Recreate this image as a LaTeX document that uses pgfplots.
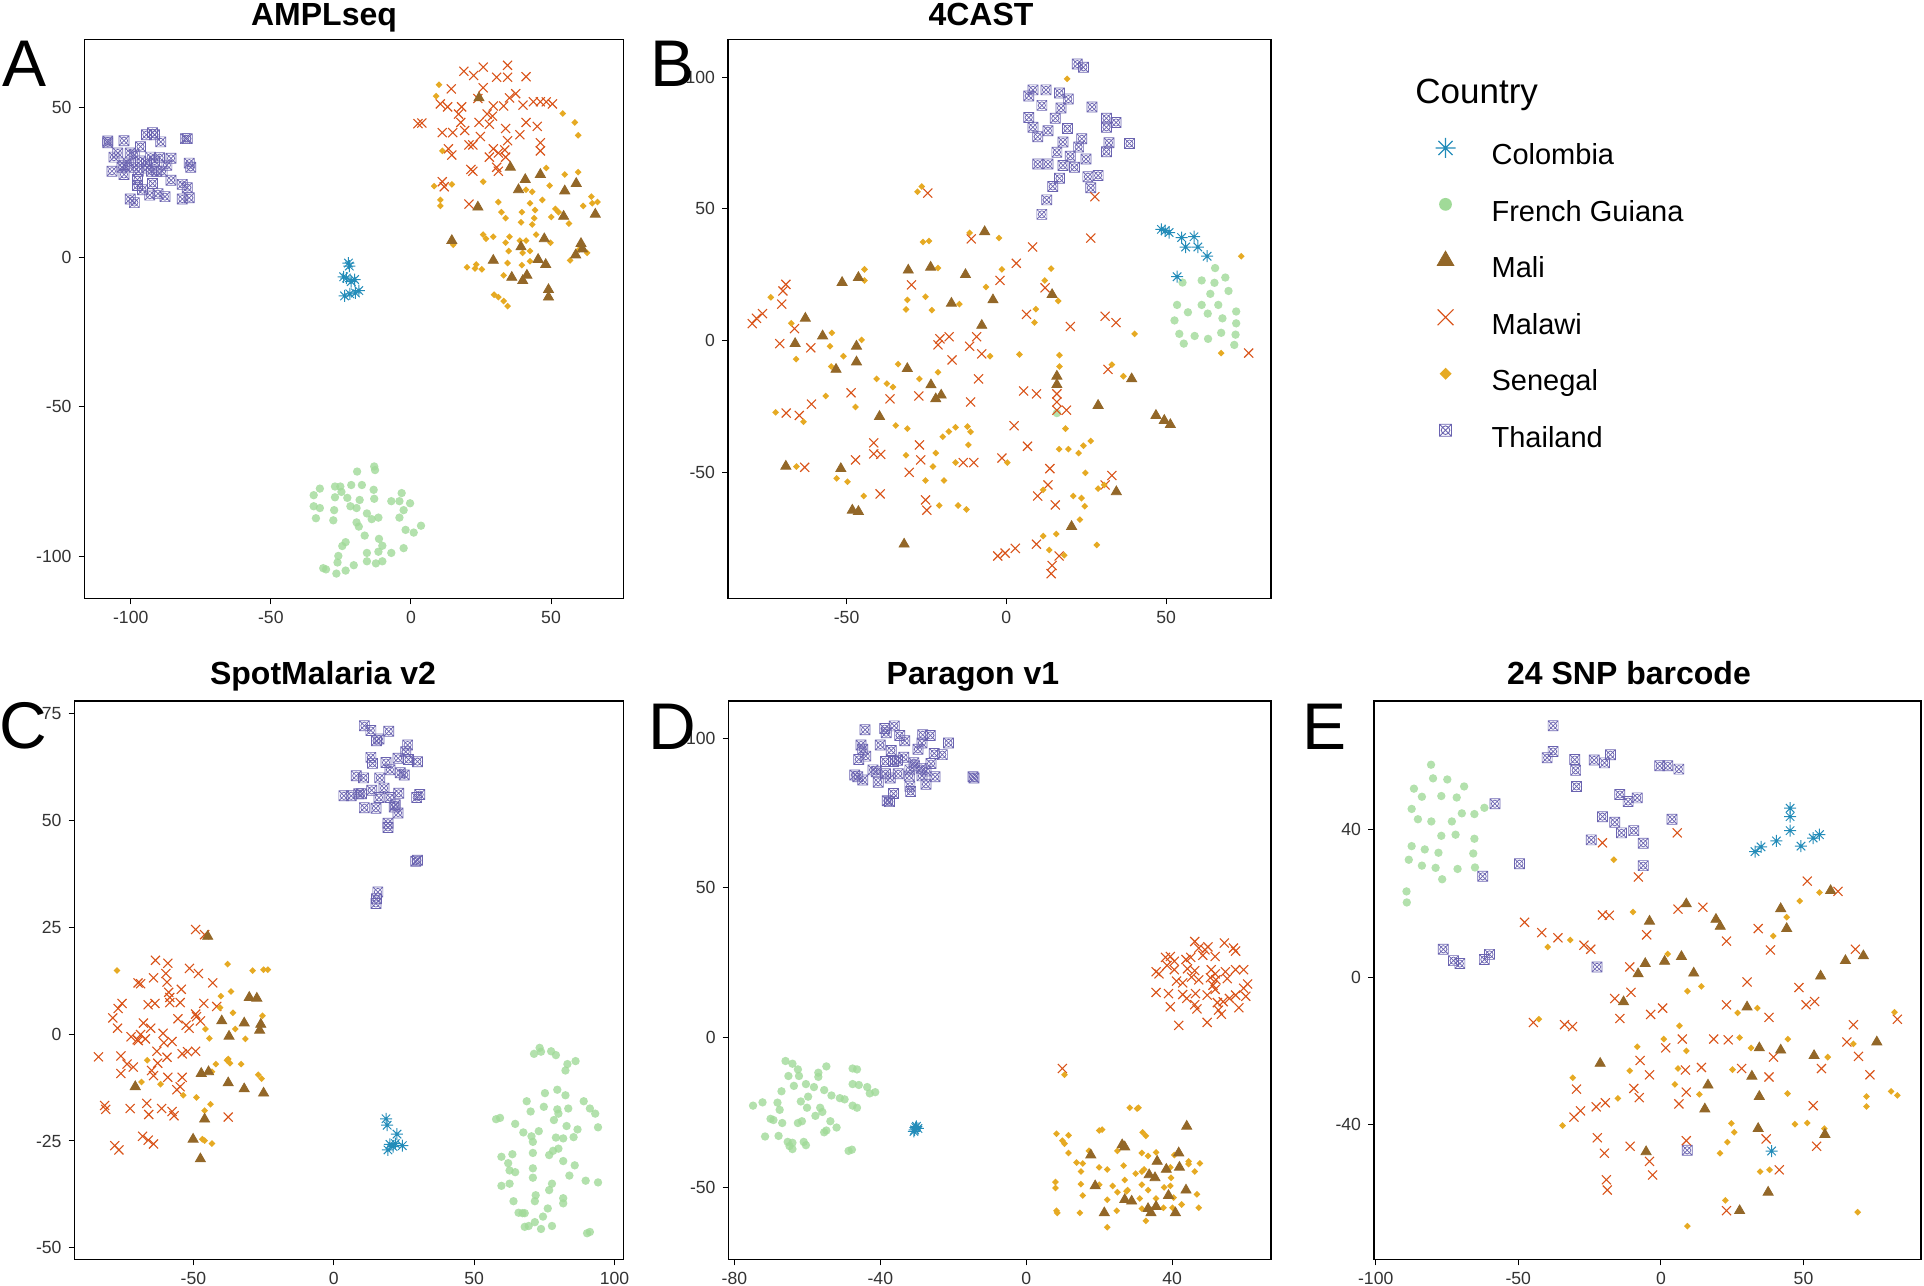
\documentclass[border=0pt]{standalone}
\usepackage{fontspec}
\setmainfont{Liberation Sans}
\usepackage{pgfplots}
\pgfplotsset{compat=1.18}

\definecolor{colC}{RGB}{35,140,185}
\definecolor{fgC}{RGB}{160,218,152}
\definecolor{maliC}{RGB}{147,103,40}
\definecolor{malawiC}{RGB}{217,83,25}
\definecolor{senC}{RGB}{230,170,35}
\definecolor{thaiC}{RGB}{106,99,176}

% pch 8: + and x overlaid
\pgfdeclareplotmark{ast8}{%
  \pgfpathmoveto{\pgfqpoint{-\pgfplotmarksize}{0pt}}\pgfpathlineto{\pgfqpoint{\pgfplotmarksize}{0pt}}%
  \pgfpathmoveto{\pgfqpoint{0pt}{-\pgfplotmarksize}}\pgfpathlineto{\pgfqpoint{0pt}{\pgfplotmarksize}}%
  \pgfpathmoveto{\pgfqpoint{-0.707\pgfplotmarksize}{-0.707\pgfplotmarksize}}\pgfpathlineto{\pgfqpoint{0.707\pgfplotmarksize}{0.707\pgfplotmarksize}}%
  \pgfpathmoveto{\pgfqpoint{-0.707\pgfplotmarksize}{0.707\pgfplotmarksize}}\pgfpathlineto{\pgfqpoint{0.707\pgfplotmarksize}{-0.707\pgfplotmarksize}}%
  \pgfusepathqstroke}
% boxed cross with circle
\pgfdeclareplotmark{thaimk}{%
  \pgfpathrectangle{\pgfqpoint{-\pgfplotmarksize}{-\pgfplotmarksize}}{\pgfqpoint{2\pgfplotmarksize}{2\pgfplotmarksize}}%
  \pgfpathmoveto{\pgfqpoint{-\pgfplotmarksize}{-\pgfplotmarksize}}\pgfpathlineto{\pgfqpoint{\pgfplotmarksize}{\pgfplotmarksize}}%
  \pgfpathmoveto{\pgfqpoint{-\pgfplotmarksize}{\pgfplotmarksize}}\pgfpathlineto{\pgfqpoint{\pgfplotmarksize}{-\pgfplotmarksize}}%
  \pgfpathcircle{\pgfpointorigin}{0.72\pgfplotmarksize}%
  \pgfusepathqstroke}
\pgfdeclareplotmark{dia}{%
  \pgfpathmoveto{\pgfqpoint{0pt}{\pgfplotmarksize}}\pgfpathlineto{\pgfqpoint{\pgfplotmarksize}{0pt}}%
  \pgfpathlineto{\pgfqpoint{0pt}{-\pgfplotmarksize}}\pgfpathlineto{\pgfqpoint{-\pgfplotmarksize}{0pt}}%
  \pgfpathclose\pgfusepathqfill}
\pgfdeclareplotmark{dot}{\pgfpathcircle{\pgfpointorigin}{\pgfplotmarksize}\pgfusepathqfill}

\tikzset{
  colo/.style={only marks, mark=ast8, mark size=3pt, color=colC, line width=0.5pt},
  fg/.style={only marks, mark=dot, mark size=2.1pt, color=fgC, fill opacity=0.8},
  mali/.style={only marks, mark=triangle*, mark size=2.9pt, color=maliC},
  malawi/.style={only marks, mark=x, mark size=3.2pt, color=malawiC, line width=0.55pt},
  sen/.style={only marks, mark=dia, mark size=1.7pt, color=senC},
  thai/.style={only marks, mark=thaimk, mark size=2.5pt, color=thaiC, line width=0.35pt},
}

\pgfplotsset{
  panel/.style={scale only axis, anchor=south west,
    tick align=outside, tick pos=left, major tick length=3pt,
    tick style={black, line width=0.5pt},
    axis line style={line width=0.55pt},
    tick label style={font=\fontsize{8.8}{10}\selectfont, text=black!80}},
}

\begin{document}
\begin{tikzpicture}
\path[use as bounding box] (0,0) rectangle (962pt,643pt);

% ---------------- A: AMPLseq
\begin{axis}[panel, at={(42.25pt,343.8pt)}, width=269.4pt, height=279.4pt,
  xmin=-116.5, xmax=75.8, ymin=-114.1, ymax=72.7,
  xtick={-100,-50,0,50}, xticklabels={-100,-50,0,50},
  ytick={-100,-50,0,50}, yticklabels={-100,-50,0,50}]
\addplot[thai] coordinates {(-108.2,38.8) (-108.2,38.2) (-102.4,38.9) (-104.6,34.8) (-106.0,33.4) (-100.2,34.8) (-98.7,34.1) (-96.5,36.9) (-94.4,40.9) (-92.2,41.6) (-91.5,40.9) (-89.3,38.5) (-92.9,33.4) (-91.5,32.1) (-89.7,33.2) (-85.6,33.0) (-87.1,30.7) (-88.8,28.7) (-90.7,28.7) (-92.6,28.7) (-94.1,29.8) (-96.5,32.1) (-97.3,28.7) (-102.4,30.7) (-103.1,30.0) (-106.7,28.7) (-102.4,27.6) (-97.6,25.9) (-97.6,23.9) (-95.8,22.5) (-93.2,20.7) (-90.3,21.2) (-87.8,20.2) (-85.6,25.7) (-81.6,24.3) (-79.8,23.2) (-79.1,19.8) (-81.6,19.4) (-98.7,18.2) (-100.2,19.4) (-79.8,39.6) (-80.5,39.6) (-79.1,31.4) (-78.6,30.0) (-92.2,24.6) (-94.4,31.4) (-98.7,30.0) (-100.9,31.4)};
\addplot[fg] coordinates {(-13.1,-70.0) (-12.8,-71.2) (-19.2,-71.7) (-21.3,-76.2) (-17.5,-76.2) (-13.3,-77.8) (-25.2,-76.7) (-27.1,-76.7) (-32.5,-77.4) (-34.7,-79.6) (-34.7,-83.3) (-32.5,-83.9) (-33.9,-87.3) (-27.4,-84.6) (-27.7,-88.0) (-24.8,-78.5) (-21.6,-83.3) (-18.3,-81.2) (-19.4,-83.9) (-15.7,-85.7) (-14.0,-87.6) (-11.6,-87.1) (-13.1,-80.8) (-7.0,-81.6) (-3.3,-78.9) (-4.1,-81.6) (-0.3,-82.3) (-2.6,-84.6) (-4.1,-87.1) (-1.9,-91.2) (1.0,-92.1) (3.6,-89.8) (-19.4,-88.7) (-18.6,-90.1) (-16.5,-93.1) (-11.4,-94.2) (-10.2,-96.5) (-11.6,-98.5) (-15.7,-98.9) (-10.2,-101.7) (-12.5,-102.4) (-15.7,-101.7) (-7.0,-98.9) (-2.6,-97.3) (-23.3,-95.3) (-24.5,-96.6) (-25.9,-99.9) (-26.2,-102.1) (-30.3,-104.4) (-31.3,-104.0) (-26.6,-105.8) (-23.3,-104.8) (-20.4,-103.0) (-22.7,-80.5) (-27.1,-80.3)};
\addplot[colo] coordinates {(-22.3,-2.0) (-22.0,-3.0) (-24.0,-6.6) (-20.1,-7.5) (-21.3,-8.2) (-18.6,-11.2) (-19.8,-12.0) (-23.7,-13.0) (-21.8,-12.3) (-23.0,-7.0)};
\addplot[malawi] coordinates {(18.9,62.1) (22.4,60.7) (25.8,63.5) (30.6,60.1) (34.5,64.1) (34.5,60.1) (41.1,60.3) (10.5,51.2) (14.4,56.2) (18.1,50.2) (23.9,53.0) (25.8,56.6) (29.4,50.5) (35.2,53.2) (37.4,54.6) (40.0,50.8) (43.7,51.9) (46.2,51.9) (50.5,51.2) (3.9,44.8) (11.2,41.6) (14.9,41.6) (17.8,45.0) (19.2,42.3) (22.1,37.5) (24.3,45.0) (28.0,44.4) (29.1,47.1) (33.8,43.0) (38.9,40.9) (41.1,45.0) (45.1,43.7) (46.2,38.2) (46.2,35.5) (13.4,36.2) (14.6,34.1) (20.7,37.5) (24.8,40.3) (28.0,33.4) (29.4,36.2) (31.2,34.8) (33.5,35.8) (34.5,38.9) (30.6,30.0) (31.2,28.7) (33.8,33.4) (21.4,29.3) (22.1,28.7) (11.2,25.2) (11.9,23.5) (20.7,17.7) (2.5,44.6) (13.1,50.2) (17.0,47.8) (27.2,47.8) (33.1,50.5) (48.3,51.9)};
\addplot[sen] coordinates {(10.0,57.6) (9.0,53.8) (54.2,48.0) (58.5,45.0) (59.7,40.7) (11.2,35.5) (8.3,23.7) (14.6,24.3) (10.5,19.1) (10.5,17.1) (25.8,25.2) (48.3,29.8) (54.9,27.6) (59.7,28.4) (43.3,21.8) (41.1,22.5) (49.5,23.9) (46.9,19.1) (44.3,15.7) (42.5,18.0) (31.2,18.4) (32.3,15.0) (33.8,13.0) (39.6,15.0) (39.3,11.6) (44.0,13.0) (43.3,10.9) (52.7,15.0) (51.6,16.1) (50.1,13.4) (56.4,11.2) (61.5,17.1) (64.4,20.2) (66.6,18.4) (64.7,18.0) (25.8,7.5) (26.8,6.1) (15.1,4.1) (33.8,4.8) (38.9,5.5) (42.5,2.0) (39.9,1.4) (34.5,-2.0) (34.9,2.0) (44.7,7.5) (49.8,4.8) (56.8,-1.1) (62.9,1.4) (60.0,2.5) (20.0,-3.4) (22.9,-3.8) (25.3,-4.1) (23.3,-2.5) (33.1,-6.1) (39.6,-2.7) (29.7,-12.6) (31.2,-13.4) (33.1,-14.7) (34.5,-16.4) (42.5,-1.4) (29.4,6.8) (35.2,6.8) (41.1,5.5)};
\addplot[mali] coordinates {(24.3,53.2) (35.5,30.0) (40.8,25.9) (46.2,27.6) (38.4,22.5) (54.9,22.1) (59.0,24.6) (65.8,14.3) (54.5,13.6) (23.9,16.7) (14.6,5.5) (39.3,3.4) (47.6,6.1) (60.7,4.5) (58.8,0.7) (61.2,2.7) (29.4,-1.1) (45.4,-0.8) (48.1,-2.5) (36.0,-6.8) (39.9,-7.9) (41.4,-6.1) (49.1,-10.9) (49.1,-13.4)};
\end{axis}

% ---------------- B: 4CAST
\begin{axis}[panel, at={(364pt,343.8pt)}, width=271.5pt, height=279.4pt,
  xmin=-87.1, xmax=82.8, ymin=-98, ymax=114.3,
  xtick={-50,0,50}, xticklabels={-50,0,50},
  ytick={-50,0,50,100}, yticklabels={-50,0,50,100}]
\addplot[thai] coordinates {(22.2,105.0) (24.1,103.8) (8.3,95.2) (12.4,95.2) (7.0,92.9) (16.6,94.0) (19.4,91.7) (11.1,89.3) (17.1,88.3) (26.8,88.7) (7.0,84.7) (15.3,84.4) (31.3,84.4) (34.3,82.8) (31.3,81.0) (8.3,81.0) (13.0,79.7) (19.1,80.5) (9.8,77.4) (17.7,75.4) (23.6,76.6) (22.6,73.5) (32.1,75.1) (38.5,74.8) (15.8,71.5) (20.0,70.0) (31.3,71.7) (24.9,68.9) (9.8,67.0) (13.0,67.0) (17.7,66.5) (21.3,65.8) (16.6,61.6) (25.5,62.2) (28.7,62.7) (14.5,58.5) (26.4,58.0) (12.6,53.4) (11.1,47.9)};
\addplot[fg] coordinates {(65.3,27.5) (61.1,22.8) (65.1,21.9) (68.5,23.9) (55.1,22.0) (69.5,18.8) (63.8,17.7) (53.4,13.5) (61.1,13.5) (66.3,13.5) (56.8,10.7) (63.0,10.2) (71.9,11.0) (52.6,7.6) (67.6,8.4) (71.9,6.5) (54.1,2.5) (58.9,1.7) (63.1,0.6) (67.2,2.9) (71.7,2.2) (55.5,-1.2) (71.3,-1.7) (15.8,-27.6)};
\addplot[colo] coordinates {(48.5,42.2) (49.7,41.7) (50.9,41.0) (54.8,39.1) (58.7,39.4) (56.1,35.5) (59.9,35.5) (62.8,32.0) (53.4,24.2)};
\addplot[malawi] coordinates {(-24.6,56.0) (27.7,54.6) (26.4,38.9) (8.2,35.5) (-11.0,38.6) (3.1,29.3) (-29.7,21.1) (-2.0,22.8) (12.1,20.0) (-69.0,21.3) (-69.9,18.8) (-70.3,13.8) (-76.3,10.2) (-78.2,8.4) (-79.5,6.4) (6.3,9.9) (30.9,9.2) (34.3,6.8) (20.0,5.3) (-70.9,-1.2) (-66.3,4.5) (-61.2,-2.8) (-20.8,0.6) (-17.9,1.4) (-21.4,-1.7) (-9.3,1.4) (-11.5,-2.2) (-7.7,-5.1) (-17.0,-7.4) (-8.7,-14.6) (31.8,-11.0) (-48.6,-19.9) (-36.4,-22.2) (-27.4,-21.1) (5.4,-19.2) (9.4,-20.3) (15.8,-20.3) (15.8,-23.4) (18.8,-26.5) (15.8,-26.5) (-11.2,-23.4) (-61.0,-24.2) (-64.8,-28.5) (-68.9,-27.6) (2.4,-32.4) (-41.5,-38.9) (-27.2,-39.7) (-41.5,-43.1) (-39.3,-43.3) (-47.2,-45.4) (-26.8,-45.4) (-30.4,-50.1) (-13.5,-46.4) (-10.2,-46.4) (-1.4,-44.7) (6.6,-40.2) (-39.5,-58.3) (-25.3,-60.6) (-24.9,-64.5) (-63.1,-48.2) (13.6,-48.7) (13.0,-54.9) (9.8,-59.1) (33.0,-51.3) (30.9,-54.9) (15.3,-62.5) (9.4,-77.4) (2.8,-79.0) (-0.4,-80.8) (-2.7,-81.9) (16.5,-81.9) (14.3,-85.5) (14.0,-88.6) (75.8,-4.8)};
\addplot[sen] coordinates {(19.0,99.4) (-26.5,58.5) (-27.8,56.5) (-11.5,40.9) (-2.3,38.9) (-26.1,37.4) (-24.2,37.8) (-44.4,27.0) (-44.4,22.8) (-21.4,27.5) (14.0,27.3) (-1.4,27.0) (12.0,22.8) (-6.4,20.3) (-25.3,16.6) (-31.0,15.4) (-73.7,16.4) (-23.3,11.5) (-31.4,11.8) (-14.7,13.8) (9.2,11.9) (16.2,15.0) (8.8,6.8) (-54.6,2.9) (-67.3,6.5) (40.1,2.5) (-45.3,0.2) (-55.2,-2.2) (-65.8,-7.1) (-51.0,-6.0) (-5.1,-6.0) (4.1,-5.3) (16.6,-5.6) (16.6,-9.9) (-33.9,-9.0) (-54.8,-9.9) (-21.4,-12.1) (-40.6,-14.6) (-37.4,-16.4) (-35.5,-17.7) (-27.2,-14.6) (33.0,-9.2) (36.6,-13.6) (-56.5,-21.1) (-47.2,-25.3) (-72.2,-27.3) (-63.5,-30.9) (-34.6,-32.3) (-31.0,-33.5) (-12.2,-32.7) (-15.9,-33.0) (-18.0,-34.6) (-19.9,-36.6) (-11.2,-34.7) (18.5,-33.5) (-11.9,-39.7) (-31.4,-43.6) (-22.1,-42.8) (-65.7,-47.9) (-23.0,-47.9) (-15.9,-46.4) (0.3,-46.4) (16.5,-41.3) (19.4,-41.3) (22.6,-42.8) (24.1,-40.0) (26.4,-38.2) (-53.1,-52.4) (-49.7,-53.7) (-44.6,-59.1) (-25.3,-53.2) (-19.5,-53.2) (24.7,-50.3) (28.7,-56.3) (30.6,-54.9) (11.5,-56.8) (20.9,-59.1) (23.5,-59.9) (24.5,-63.0) (-21.0,-62.7) (-15.1,-62.7) (-12.5,-64.2) (23.0,-68.1) (11.5,-74.3) (15.6,-73.5) (13.4,-79.6) (28.3,-77.7) (67.2,-4.8) (73.5,32.0) (18.1,-81.6)};
\addplot[mali] coordinates {(-6.8,41.3) (-30.7,26.7) (-23.7,27.8) (-12.8,25.0) (-51.4,22.0) (-46.3,23.9) (-17.2,14.1) (-4.2,15.4) (14.3,17.4) (-62.9,8.4) (-7.7,5.7) (-57.5,1.7) (-66.1,-1.2) (-46.9,-2.2) (-53.3,-11.0) (-46.9,-8.2) (-31.0,-10.7) (-23.6,-16.9) (-22.1,-22.2) (-20.4,-20.8) (15.8,-13.6) (15.8,-16.8) (-39.7,-28.9) (28.7,-24.7) (46.8,-28.5) (49.4,-30.4) (51.3,-32.0) (39.2,-14.6) (-69.0,-47.8) (-51.8,-48.7) (34.4,-57.5) (-48.2,-64.5) (-46.3,-65.0) (20.4,-70.7) (-32.0,-77.4)};
\end{axis}

% ---------------- C: SpotMalaria v2
\begin{axis}[panel, at={(37.3pt,13.35pt)}, width=274.35pt, height=279.15pt,
  xmin=-92.3, xmax=103.1, ymin=-52.7, ymax=78,
  xtick={-50,0,50,100}, xticklabels={-50,0,50,100},
  ytick={-50,-25,0,25,50,75}, yticklabels={-50,-25,0,25,50,75}]
\addplot[thai] coordinates {(10.9,72.2) (13.2,71.1) (19.6,70.9) (15.2,68.7) (16.1,69.1) (26.3,67.7) (25.6,66.1) (22.9,64.6) (26.6,64.3) (29.8,63.8) (13.2,64.8) (13.8,63.4) (18.6,63.6) (20.0,61.9) (23.7,61.2) (25.1,60.7) (8.0,60.5) (10.6,60.0) (16.4,60.0) (17.9,57.6) (13.5,57.1) (8.9,56.3) (9.9,56.3) (3.6,55.8) (6.2,55.8) (16.1,55.4) (20.0,55.4) (23.1,56.4) (29.5,55.4) (30.6,56.1) (21.9,53.7) (10.9,53.0) (15.0,52.9) (22.9,51.8) (19.3,49.4) (19.3,48.4) (29.2,40.5) (29.8,40.7) (15.7,33.3) (15.2,31.7) (15.0,30.6) (21.5,53.2)};
\addplot[fg] coordinates {(73.3,-3.2) (71.3,-4.6) (73.8,-4.1) (77.4,-4.0) (79.1,-4.9) (83.2,-7.0) (86.1,-6.3) (82.5,-8.5) (75.2,-13.8) (79.6,-13.0) (82.5,-14.3) (68.7,-15.7) (74.8,-17.0) (79.6,-17.6) (83.5,-17.4) (89.0,-15.7) (91.2,-17.4) (93.1,-18.6) (70.1,-18.1) (78.4,-20.1) (80.0,-18.6) (57.8,-19.9) (59.2,-19.6) (64.6,-21.0) (67.5,-23.0) (70.4,-23.9) (73.0,-22.7) (70.9,-25.2) (79.1,-24.2) (81.7,-24.4) (82.9,-21.5) (86.8,-22.3) (94.1,-21.8) (85.4,-24.1) (78.1,-27.3) (76.7,-28.3) (80.0,-26.8) (59.7,-28.7) (63.6,-28.1) (70.9,-27.8) (62.1,-30.2) (62.6,-31.9) (64.6,-32.3) (70.9,-31.4) (81.7,-29.7) (85.8,-30.7) (83.9,-33.1) (59.7,-35.5) (62.6,-35.0) (77.7,-35.0) (76.7,-36.5) (89.7,-34.3) (94.1,-34.7) (64.0,-39.1) (71.9,-37.7) (71.6,-39.1) (81.7,-38.4) (81.7,-39.6) (65.8,-41.8) (67.2,-41.9) (76.2,-40.8) (74.5,-42.7) (71.6,-44.0) (68.0,-45.1) (69.4,-44.9) (77.7,-44.9) (73.8,-45.6) (90.2,-46.6) (91.2,-46.3) (68.0,-41.9) (70.9,-33.6)};
\addplot[colo] coordinates {(18.6,-19.8) (19.0,-21.3) (22.5,-23.4) (20.0,-25.8) (21.9,-25.6) (24.4,-26.1) (19.3,-27.1) (21.1,-26.3)};
\addplot[malawi] coordinates {(-49.2,24.5) (-46.0,23.3) (-63.5,17.3) (-59.1,16.6) (-51.4,15.4) (-48.2,14.2) (-59.8,14.2) (-59.4,12.2) (-43.1,12.0) (-68.8,11.8) (-69.7,12.0) (-64.2,13.2) (-66.1,6.9) (-63.7,7.2) (-75.4,7.2) (-76.8,6.0) (-78.7,3.8) (-77.0,1.4) (-72.2,-0.6) (-67.8,2.6) (-68.8,-0.1) (-67.1,-1.1) (-69.6,-1.5) (-65.2,1.4) (-63.0,-4.0) (-60.8,0.2) (-60.5,-2.0) (-59.4,-5.4) (-62.7,-6.8) (-58.4,8.6) (-58.8,9.8) (-58.4,7.4) (-54.3,10.5) (-54.7,7.4) (-55.5,3.6) (-52.6,2.1) (-51.5,1.4) (-52.1,-4.1) (-49.2,-4.0) (-54.0,-4.6) (-48.9,4.1) (-47.5,3.1) (-46.3,7.2) (-41.7,6.5) (-83.8,-5.3) (-75.8,-5.1) (-73.6,-7.0) (-71.4,-7.7) (-75.8,-9.2) (-64.9,-8.5) (-64.2,-9.7) (-59.1,-10.1) (-54.0,-10.1) (-55.9,-13.0) (-54.7,-12.3) (-72.5,-17.4) (-66.6,-16.2) (-65.9,-18.8) (-61.3,-17.4) (-57.6,-18.1) (-56.9,-19.1) (-81.6,-16.7) (-81.2,-17.6) (-68.1,-23.9) (-66.1,-24.8) (-64.2,-25.7) (-78.0,-26.1) (-76.5,-27.1) (-37.6,-19.4) (-57.6,-1.7) (-49.2,4.7) (-70.0,-1.3)};
\addplot[sen] coordinates {(-77.2,14.9) (-37.8,16.4) (-28.9,14.9) (-25.0,15.1) (-23.5,15.1) (-40.2,8.9) (-36.6,10.0) (-35.9,5.0) (-40.5,6.2) (-35.1,1.2) (-31.5,-1.1) (-45.7,1.2) (-44.3,-1.0) (-25.4,4.3) (-66.4,-6.1) (-61.7,-11.7) (-68.5,-11.2) (-53.6,-14.3) (-48.9,-14.8) (-42.0,-7.0) (-38.0,-6.1) (-37.0,-6.8) (-33.0,-7.0) (-43.4,-8.8) (-46.0,-17.9) (-26.9,-9.5) (-25.7,-10.4) (-46.8,-24.6) (-46.0,-24.9) (-43.4,-25.6) (-43.9,-16.4) (-37.6,-5.8)};
\addplot[mali] coordinates {(-44.9,22.9) (-39.9,3.1) (-30.1,8.6) (-27.4,8.4) (-37.3,-0.5) (-31.9,2.6) (-26.4,0.9) (-26.0,2.3) (-70.7,-12.3) (-47.2,-9.2) (-44.6,-8.8) (-37.6,-11.4) (-31.9,-12.8) (-25.0,-13.8) (-46.0,-19.9) (-50.1,-24.6) (-47.5,-29.2)};
\end{axis}

% ---------------- D: Paragon v1
\begin{axis}[panel, at={(364.3pt,13.35pt)}, width=271.2pt, height=279.15pt,
  xmin=-81.6, xmax=67.1, ymin=-74, ymax=112.4,
  xtick={-80,-40,0,40}, xticklabels={-80,-40,0,40},
  ytick={-50,0,50,100}, yticklabels={-50,0,50,100}]
\addplot[thai] coordinates {(-44.2,102.8) (-38.8,103.2) (-38.4,101.8) (-36.2,104.1) (-34.7,100.9) (-33.3,99.1) (-28.4,101.1) (-26.3,100.9) (-21.3,98.4) (-45.3,97.7) (-44.8,96.3) (-40.0,97.7) (-44.0,94.0) (-45.9,92.9) (-37.0,95.9) (-29.7,96.3) (-28.6,98.4) (-25.2,94.9) (-23.0,94.5) (-26.1,91.5) (-33.6,93.6) (-35.3,92.6) (-38.6,92.2) (-36.4,92.2) (-42.0,89.4) (-41.1,88.8) (-47.0,87.7) (-46.2,87.1) (-44.8,86.0) (-38.6,88.1) (-37.3,86.7) (-35.1,88.1) (-31.9,89.4) (-30.6,90.8) (-28.8,89.9) (-27.5,89.0) (-28.6,87.4) (-25.0,87.1) (-31.9,83.9) (-31.7,82.2) (-27.5,84.6) (-40.6,85.3) (-36.4,81.5) (-38.1,79.1) (-37.5,78.8) (-14.6,87.1) (-14.3,86.7) (-30.8,91.8) (-32.1,87.4)};
\addplot[fg] coordinates {(-66.0,-7.8) (-64.1,-8.7) (-62.6,-10.6) (-65.2,-12.8) (-62.3,-12.8) (-57.0,-11.7) (-54.8,-9.6) (-57.0,-13.1) (-47.6,-10.3) (-46.4,-10.6) (-67.1,-17.9) (-63.7,-16.1) (-60.4,-15.5) (-58.2,-16.5) (-55.4,-17.5) (-53.4,-19.3) (-51.1,-20.2) (-49.8,-20.6) (-47.6,-15.5) (-45.9,-15.8) (-43.6,-16.5) (-42.9,-18.6) (-41.4,-18.2) (-74.9,-22.7) (-72.3,-21.6) (-68.2,-21.7) (-67.6,-24.1) (-61.8,-21.3) (-60.1,-23.4) (-56.5,-23.4) (-55.9,-24.8) (-47.6,-22.7) (-46.4,-23.4) (-70.1,-27.1) (-69.3,-27.5) (-66.9,-28.5) (-62.6,-28.5) (-61.5,-27.9) (-57.8,-26.1) (-53.7,-27.9) (-52.0,-30.0) (-55.4,-31.6) (-54.8,-31.0) (-71.6,-33.0) (-67.9,-32.8) (-65.4,-34.8) (-64.1,-35.1) (-64.1,-37.2) (-64.9,-36.2) (-61.0,-34.8) (-60.4,-35.9) (-48.7,-37.8) (-47.8,-37.4) (-59.8,-19.7)};
\addplot[colo] coordinates {(-30.1,-29.6) (-30.6,-30.8) (-29.7,-30.3) (-30.8,-31.3) (-30.3,-30.0)};
\addplot[malawi] coordinates {(46.2,32.1) (49.8,30.3) (47.3,29.9) (54.3,31.6) (56.8,29.9) (57.4,28.9) (38.2,26.8) (40.6,25.5) (39.5,27.1) (43.8,26.1) (45.1,26.8) (48.4,27.5) (51.8,27.1) (49.0,29.3) (35.6,22.0) (36.4,21.3) (40.6,22.7) (44.2,23.0) (46.2,22.4) (50.7,22.7) (51.8,21.3) (54.6,22.0) (57.4,22.7) (59.6,22.7) (41.2,18.9) (42.9,18.3) (45.3,20.2) (47.3,19.3) (50.5,20.0) (51.2,17.5) (52.0,19.3) (55.1,19.7) (60.7,17.9) (59.6,16.5) (35.6,15.1) (39.0,14.7) (42.9,14.4) (44.0,13.1) (46.4,14.7) (49.6,14.2) (51.8,16.1) (52.4,11.7) (54.0,12.0) (57.4,14.2) (60.2,13.8) (39.5,10.3) (46.2,11.0) (46.8,9.6) (52.7,9.2) (53.5,7.8) (58.3,10.0) (49.6,5.1) (41.8,4.1) (38.6,24.1) (9.9,-10.3) (55.7,13.1)};
\addplot[sen] coordinates {(10.5,-12.4) (28.4,-23.4) (30.4,-23.7) (30.8,-23.4) (20.0,-31.0) (20.8,-30.7) (31.9,-31.6) (32.8,-32.8) (8.3,-32.1) (11.6,-32.6) (9.9,-34.4) (10.5,-35.4) (11.6,-38.5) (25.0,-37.8) (17.2,-37.8) (31.7,-38.5) (33.4,-39.5) (35.6,-38.3) (40.6,-39.2) (44.5,-41.3) (47.6,-42.0) (13.8,-41.7) (15.5,-42.0) (15.0,-44.7) (20.0,-43.3) (22.2,-44.0) (26.7,-42.7) (30.0,-45.4) (32.3,-44.0) (39.5,-43.3) (44.5,-42.2) (46.2,-44.7) (39.7,-46.8) (15.0,-48.9) (20.0,-49.1) (23.7,-49.5) (27.0,-47.5) (31.7,-49.1) (33.4,-50.9) (37.8,-50.0) (39.5,-49.5) (8.0,-48.2) (8.0,-50.2) (15.5,-52.7) (25.0,-51.6) (27.5,-51.3) (22.2,-54.1) (31.1,-53.7) (35.6,-53.7) (40.4,-53.4) (42.6,-55.7) (46.8,-52.3) (47.3,-56.8) (24.8,-57.8) (31.7,-57.1) (37.6,-56.8) (40.1,-56.8) (8.3,-57.8) (8.5,-58.5) (14.7,-58.5) (22.2,-63.3) (32.8,-61.2) (31.7,-44.7) (27.8,-50.9)};
\addplot[mali] coordinates {(44.0,-29.6) (26.3,-35.8) (27.0,-36.5) (17.7,-39.2) (41.8,-38.5) (35.9,-41.3) (42.0,-43.3) (38.4,-44.0) (33.7,-45.8) (35.3,-46.8) (18.9,-49.5) (43.8,-50.9) (39.0,-52.7) (27.0,-54.1) (28.9,-54.6) (33.4,-57.1) (35.6,-56.4) (34.2,-58.5) (40.9,-58.5) (21.4,-58.5)};
\end{axis}

% ---------------- E: 24 SNP barcode
\begin{axis}[panel, at={(687pt,13.35pt)}, width=273.5pt, height=279.15pt,
  xmin=-100.6, xmax=91.2, ymin=-76.6, ymax=75,
  xtick={-100,-50,0,50}, xticklabels={-100,-50,0,50},
  ytick={-40,0,40}, yticklabels={-40,0,40}]
\addplot[thai] coordinates {(-37.8,68.3) (-37.8,61.3) (-39.9,59.6) (-30.2,59.1) (-29.9,56.2) (-29.6,51.8) (-23.4,59.0) (-19.8,58.2) (-17.7,60.4) (-0.4,57.4) (2.4,57.4) (6.3,56.5) (-14.4,49.6) (-11.5,47.7) (-8.3,48.7) (-20.5,43.6) (-16.2,42.1) (-13.8,39.2) (-9.5,39.8) (-24.4,37.3) (-6.2,36.4) (-6.2,30.3) (3.9,42.9) (-58.2,47.1) (-49.6,30.8) (-62.5,27.4) (-76.3,7.6) (-72.7,4.5) (-70.5,3.7) (-61.9,4.8) (-60.1,6.2) (-22.4,2.8) (9.2,-47.0)};
\addplot[fg] coordinates {(-80.6,57.7) (-79.9,54.0) (-74.9,53.7) (-86.6,51.2) (-69.0,51.8) (-83.8,49.0) (-77.0,49.2) (-71.6,48.8) (-87.4,45.7) (-69.8,44.5) (-65.4,44.3) (-61.9,46.0) (-85.2,42.9) (-80.5,42.3) (-73.3,42.3) (-77.0,38.4) (-72.0,38.7) (-65.4,37.6) (-87.4,35.6) (-82.8,34.7) (-78.0,33.8) (-65.8,33.6) (-88.4,31.9) (-83.8,30.3) (-79.0,29.7) (-71.3,29.4) (-65.2,29.8) (-76.7,26.6) (-89.2,23.3) (-89.1,20.3)};
\addplot[colo] coordinates {(33.0,34.1) (35.1,35.4) (40.5,37.0) (45.3,45.9) (45.3,43.6) (45.3,39.8) (49.1,35.6) (53.4,37.8) (55.6,38.7) (38.8,-47.2)};
\addplot[malawi] coordinates {(5.7,39.2) (-20.5,36.5) (-7.9,27.2) (51.3,26.1) (62.1,23.3) (6.0,18.5) (14.7,19.0) (-47.8,14.9) (-41.8,12.1) (-36.1,10.7) (-27.0,8.7) (-24.6,7.6) (-20.5,16.9) (-18.1,16.8) (-5.0,11.5) (23.0,9.8) (34.1,13.2) (38.4,7.4) (68.2,7.6) (-10.9,2.8) (30.2,-1.3) (48.4,-2.8) (50.9,-7.5) (53.9,-6.6) (-16.2,-5.8) (-10.5,-4.1) (0.6,-8.4) (-3.6,-10.1) (23.0,-7.5) (-14.4,-11.2) (37.9,-10.9) (-44.7,-12.3) (-33.8,-12.9) (-31.0,-13.4) (67.5,-12.9) (82.9,-11.4) (7.5,-16.8) (18.5,-16.8) (23.6,-17.0) (1.7,-19.2) (65.2,-17.6) (69.3,-21.5) (39.5,-21.7) (-7.3,-22.6) (8.6,-25.2) (14.2,-24.5) (28.3,-24.8) (56.3,-24.8) (73.3,-26.5) (-4.0,-26.5) (37.9,-27.1) (-29.6,-30.4) (-9.5,-30.2) (-7.6,-32.7) (8.9,-31.2) (6.3,-34.4) (-22.7,-35.2) (-19.5,-34.1) (-28.2,-36.3) (-30.5,-38.0) (53.4,-34.9) (-22.3,-43.6) (-19.8,-47.8) (-10.8,-45.9) (-4.0,-50.0) (-2.9,-53.7) (8.9,-44.4) (36.9,-43.9) (41.5,-52.3) (54.6,-45.9) (-19.1,-55.0) (-18.8,-57.8) (23.0,-63.4)};
\addplot[sen] coordinates {(-16.5,31.9) (-9.8,17.7) (55.6,23.0) (48.7,20.7) (44.1,16.3) (39.4,11.2) (-39.7,8.2) (-31.8,10.1) (2.4,6.3) (9.3,-3.8) (14.2,-2.5) (-42.8,-11.4) (6.5,-13.2) (26.9,-9.7) (33.8,-8.4) (81.9,-9.5) (1.0,-16.8) (27.6,-16.4) (44.5,-16.8) (67.5,-18.1) (-8.3,-18.9) (31.6,-19.2) (8.9,-20.0) (58.5,-21.7) (-10.9,-25.4) (25.1,-25.1) (-30.9,-27.3) (4.9,-29.1) (13.5,-31.8) (-15.1,-32.9) (44.4,-31.6) (72.1,-32.4) (80.7,-31.0) (82.9,-32.1) (-34.5,-40.3) (24.7,-39.7) (25.7,-42.1) (47.0,-39.9) (51.3,-39.6) (57.3,-41.1) (72.1,-35.1) (23.3,-44.8) (20.7,-47.8) (34.8,-52.8) (38.1,-52.3) (22.6,-60.6) (9.3,-67.6) (69.0,-63.8) (6.0,-24.8)};
\addplot[mali] coordinates {(8.9,19.9) (-4.0,15.2) (19.3,15.7) (20.8,13.8) (42.0,18.6) (44.1,13.2) (59.5,23.5) (1.3,4.3) (7.2,5.6) (-5.5,3.7) (-8.0,0.9) (11.5,1.1) (56.0,0.3) (64.7,4.5) (71.0,5.8) (-13.1,-6.7) (30.2,-8.1) (-21.3,-23.4) (34.5,-19.2) (42.0,-19.8) (31.9,-26.9) (53.7,-21.3) (75.7,-17.6) (16.5,-29.3) (34.5,-32.4) (15.4,-35.8) (34.1,-41.1) (57.5,-42.7) (-5.2,-47.4) (37.6,-58.4) (27.6,-63.4)};
\end{axis}

% ---------------- legend (hidden axis covering the whole picture)
\begin{axis}[at={(0pt,0pt)}, anchor=south west, scale only axis,
  width=962pt, height=643pt, hide axis,
  xmin=0, xmax=1, ymin=0, ymax=1,
  legend cell align=left,
  legend image code/.code={\path (-6pt,0pt) (6pt,10pt); \draw[#1] plot coordinates {(0pt,5pt)};},
  legend style={at={(0.74454,0.8935)}, anchor=north west, draw=none, fill=none,
    inner sep=0pt, row sep=11pt, column sep=16.75pt,
    font=\fontsize{14.5}{17}\selectfont,
    nodes={inner sep=0pt, text height=10.5pt, text depth=3.5pt}}]
\addlegendimage{only marks, mark=ast8, mark size=5pt, color=colC, line width=0.6pt}
\addlegendentry{Colombia}
\addlegendimage{only marks, mark=dot, mark size=3.2pt, color=fgC}
\addlegendentry{French Guiana}
\addlegendimage{only marks, mark=triangle*, mark size=4.8pt, color=maliC}
\addlegendentry{Mali}
\addlegendimage{only marks, mark=x, mark size=5.6pt, color=malawiC, line width=0.6pt}
\addlegendentry{Malawi}
\addlegendimage{only marks, mark=dia, mark size=3pt, color=senC}
\addlegendentry{Senegal}
\addlegendimage{only marks, mark=thaimk, mark size=3pt, color=thaiC, line width=0.45pt}
\addlegendentry{Thailand}
\end{axis}

% titles and panel letters
\node[anchor=base, font=\fontsize{16}{19}\selectfont\bfseries] at (162pt,630pt) {AMPLseq};
\node[anchor=base, font=\fontsize{16}{19}\selectfont\bfseries] at (490.5pt,630pt) {4CAST};
\node[anchor=base, font=\fontsize{16}{19}\selectfont\bfseries] at (161.5pt,300.75pt) {SpotMalaria v2};
\node[anchor=base, font=\fontsize{16}{19}\selectfont\bfseries] at (486.5pt,300.75pt) {Paragon v1};
\node[anchor=base, font=\fontsize{16}{19}\selectfont\bfseries] at (814.5pt,300.75pt) {24 SNP barcode};
\node[anchor=base west, inner sep=0pt, font=\fontsize{33}{36}\selectfont] at (1pt,599.75pt) {A};
\node[anchor=base west, inner sep=0pt, font=\fontsize{33}{36}\selectfont] at (325pt,599.75pt) {B};
\node[anchor=base west, inner sep=0pt, font=\fontsize{33}{36}\selectfont] at (-0.5pt,268.8pt) {C};
\node[anchor=base west, inner sep=0pt, font=\fontsize{33}{36}\selectfont] at (324.2pt,268.4pt) {D};
\node[anchor=base west, inner sep=0pt, font=\fontsize{33}{36}\selectfont] at (650.8pt,268.4pt) {E};
\node[anchor=base west, inner sep=0pt, font=\fontsize{17.5}{20}\selectfont] at (707.5pt,591pt) {Country};
\end{tikzpicture}
\end{document}
